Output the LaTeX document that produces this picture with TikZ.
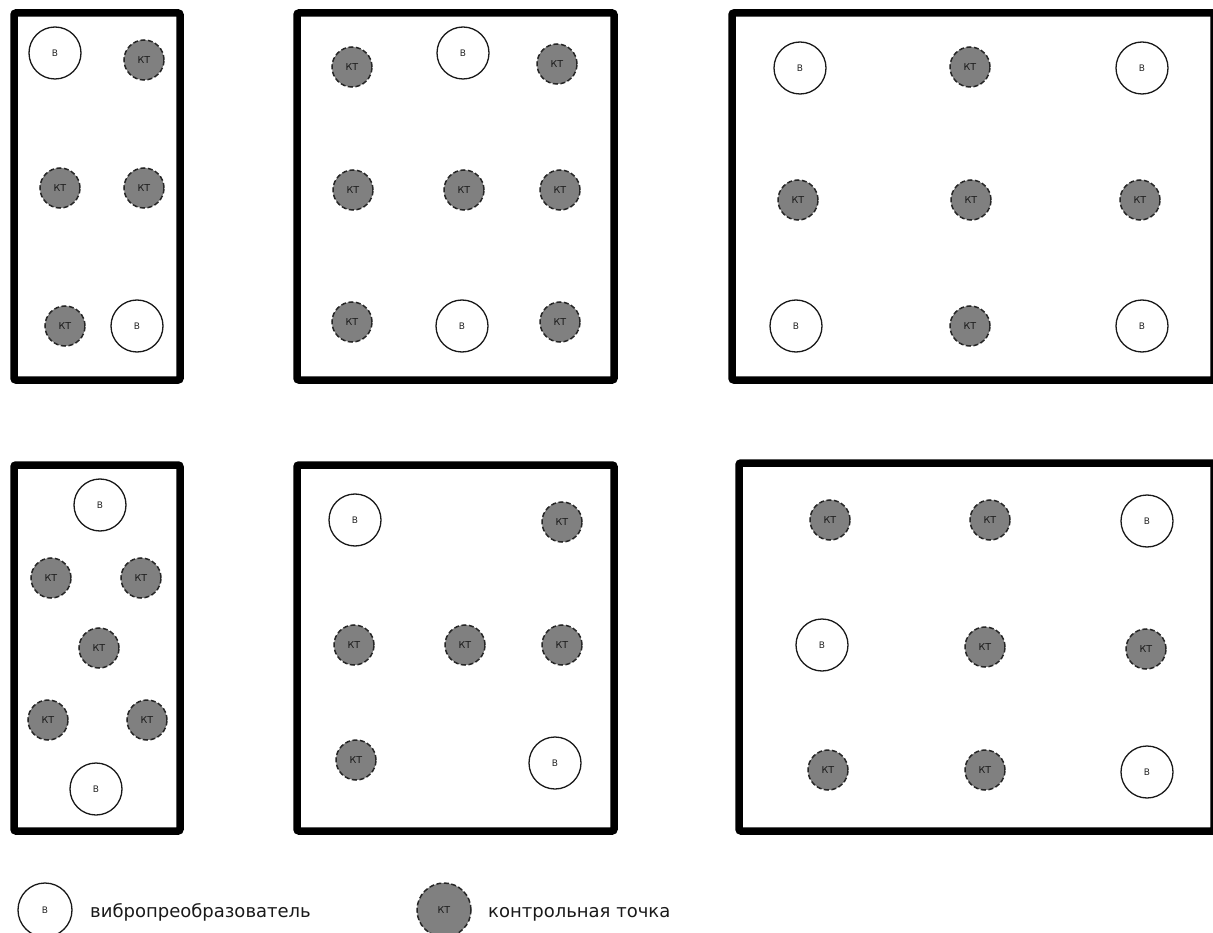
\documentclass[tikz,border=0pt]{standalone}
\usepackage{fontspec}
\setmainfont{DejaVu Sans}
\begin{document}
\begin{tikzpicture}[x=1pt,y=-1pt,
  frame/.style={line width=7.5pt, rounded corners=2pt},
  vib/.style={circle, draw=black!90, line width=1.3pt, minimum size=52pt, inner sep=0pt, text=black!85, font=\fontsize{9}{9}\selectfont},
  kt/.style={circle, draw=black!85, dash pattern=on 5pt off 2.5pt, fill=black!50, line width=1.5pt, minimum size=40pt, inner sep=0pt, text=black!90, font=\fontsize{9.5}{9.5}\selectfont},
  lvib/.style={vib, minimum size=54pt},
  lkt/.style={kt, minimum size=54pt},
  legtext/.style={anchor=base west, inner sep=0pt, text=black!90, font=\fontsize{18}{18}\selectfont},
]
\useasboundingbox (0,0) rectangle (1213,933);

% frames
\draw[frame] (14,13) rectangle (180,380);
\draw[frame] (297,13) rectangle (614,380);
\draw[frame] (732,13) rectangle (1214,380);
\draw[frame] (14,465) rectangle (180,831);
\draw[frame] (297,465) rectangle (614,831);
\draw[frame] (739,463) rectangle (1214,831);

% box 1
\node[vib] (a1) at (55,53) {В};
\node[kt]  (a2) at (144,60) {КТ};
\node[kt]  (a3) at (60,188) {КТ};
\node[kt]  (a4) at (144,188) {КТ};
\node[kt]  (a5) at (65,326) {КТ};
\node[vib] (a6) at (137,326) {В};

% box 2
\node[kt]  (b1) at (352,67) {КТ};
\node[vib] (b2) at (463,53) {В};
\node[kt]  (b3) at (557,64) {КТ};
\node[kt]  (b4) at (353,190) {КТ};
\node[kt]  (b5) at (464,190) {КТ};
\node[kt]  (b6) at (560,190) {КТ};
\node[kt]  (b7) at (352,322) {КТ};
\node[vib] (b8) at (462,326) {В};
\node[kt]  (b9) at (560,322) {КТ};

% box 3
\node[vib] (c1) at (800,68) {В};
\node[kt]  (c2) at (970,67) {КТ};
\node[vib] (c3) at (1142,68) {В};
\node[kt]  (c4) at (798,200) {КТ};
\node[kt]  (c5) at (971,200) {КТ};
\node[kt]  (c6) at (1140,200) {КТ};
\node[vib] (c7) at (796,326) {В};
\node[kt]  (c8) at (970,326) {КТ};
\node[vib] (c9) at (1142,326) {В};

% box 4
\node[vib] (d1) at (100,505) {В};
\node[kt]  (d2) at (51,578) {КТ};
\node[kt]  (d3) at (141,578) {КТ};
\node[kt]  (d4) at (99,648) {КТ};
\node[kt]  (d5) at (48,720) {КТ};
\node[kt]  (d6) at (147,720) {КТ};
\node[vib] (d7) at (96,789) {В};

% box 5
\node[vib] (e1) at (355,520) {В};
\node[kt]  (e2) at (562,522) {КТ};
\node[kt]  (e3) at (354,645) {КТ};
\node[kt]  (e4) at (465,645) {КТ};
\node[kt]  (e5) at (562,645) {КТ};
\node[kt]  (e6) at (356,760) {КТ};
\node[vib] (e7) at (555,763) {В};

% box 6
\node[kt]  (f1) at (830,520) {КТ};
\node[kt]  (f2) at (990,520) {КТ};
\node[vib] (f3) at (1147,521) {В};
\node[vib] (f4) at (822,645) {В};
\node[kt]  (f5) at (985,647) {КТ};
\node[kt]  (f6) at (1146,649) {КТ};
\node[kt]  (f7) at (828,770) {КТ};
\node[kt]  (f8) at (985,770) {КТ};
\node[vib] (f9) at (1147,772) {В};

% legend
\node[lvib] (lv) at (45,910) {В};
\node[legtext] (lvt) at (90,917) {вибропреобразователь};
\node[lkt] (lk) at (444,910) {КТ};
\node[legtext] (lkt) at (488,917) {контрольная точка};
\end{tikzpicture}
\end{document}
